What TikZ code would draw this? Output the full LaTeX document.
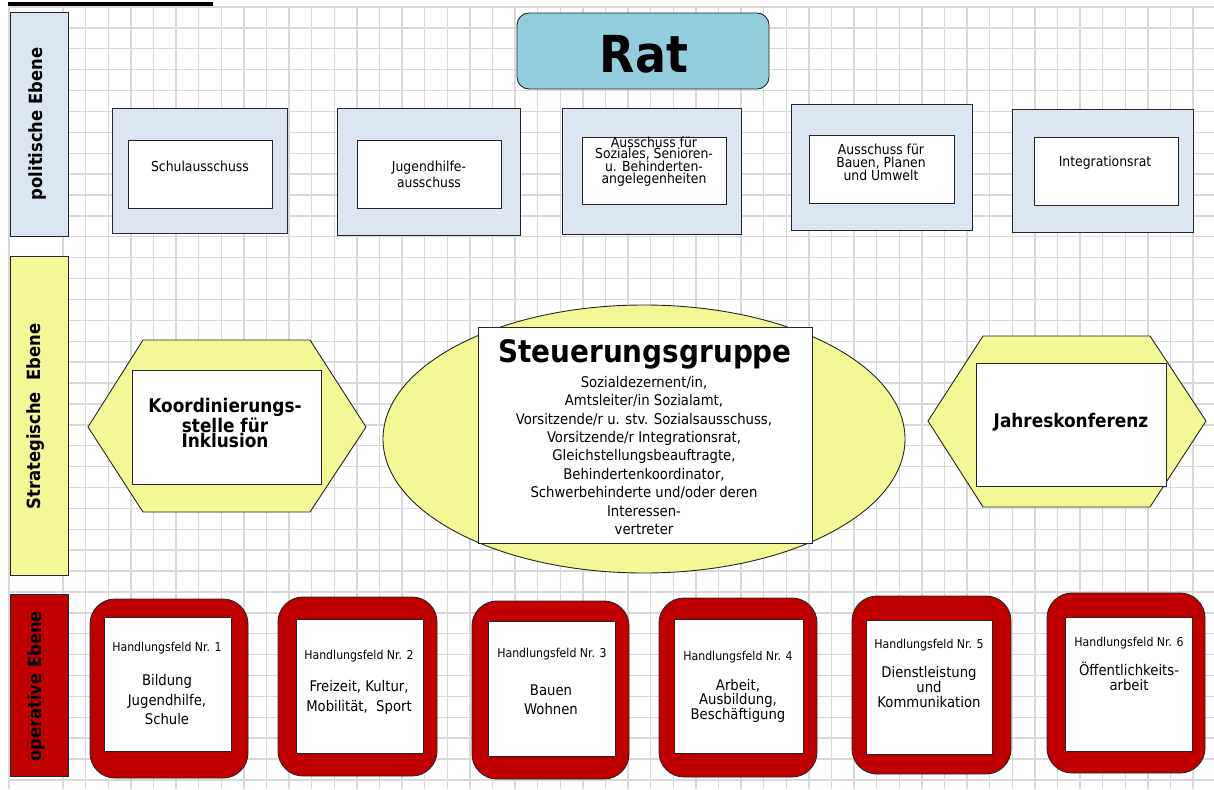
\documentclass[tikz,border=0pt]{standalone}
\usepackage{fontspec}
\setmainfont{DejaVu Sans Condensed}
\usetikzlibrary{shapes.geometric}
\definecolor{gridgray}{RGB}{217,217,217}
\definecolor{commblue}{RGB}{220,230,242}
\definecolor{hexyellow}{RGB}{243,247,150}
\definecolor{ratblue}{RGB}{146,205,220}
\definecolor{opred}{RGB}{192,0,0}
\begin{document}
\begin{tikzpicture}[x=1pt,y=-1pt,
  gridline/.style={draw=gridgray,line width=1.4pt},
  frame/.style={draw=black!85,line width=0.9pt},
  lanebox/.style={frame,rectangle,inner sep=0pt,minimum width=58},
  lanetext/.style={rotate=90,inner sep=0pt,font=\fontsize{18.2}{20}\selectfont\bfseries},
  outerbox/.style={frame,fill=commblue,inner sep=0pt},
  innerbox/.style={frame,fill=white,inner sep=0pt},
  commtext/.style={inner sep=0pt,align=center,font=\fontsize{13.8}{#1}\selectfont},
  commtext/.default=14,
  hexshape/.style={frame,fill=hexyellow},
  boldtext/.style={inner sep=0pt,align=center,font=\fontsize{18.8}{#1}\selectfont\bfseries},
  boldtext/.default=20,
  redbox/.style={frame,fill=opred,rounded corners=25,inner sep=0pt},
  hftext/.style={inner sep=0pt,font=\fontsize{12.2}{13}\selectfont},
  bodytext/.style={inner sep=0pt,align=center,font=\fontsize{14.7}{#1}\selectfont},
  bodytext/.default=19
]
\useasboundingbox (0,0) rectangle (1214,789);
\fill[white] (0,0) rectangle (1214,789);
% grid
\foreach \i in {0,...,50} \draw[gridline] ({63+22.6*\i},7) -- ({63+22.6*\i},789);
\foreach \j in {0,...,37} \draw[gridline] (9,{7+20.89*\j}) -- (1214,{7+20.89*\j});
\draw[gridline] (9,7) -- (9,789);
% title underline
\draw[line width=3.2pt] (8,4) -- (213,4);

% lanes
\node[lanebox,fill=commblue,minimum height=224] (lanepol) at (39,124) {};
\node[lanetext] (lanepoltext) at (37,124) {politische Ebene};
\node[lanebox,fill=hexyellow,minimum height=319] (lanestr) at (39,415.5) {};
\node[lanetext] (lanestrtext) at (36,416.5) {Strategische\ \ Ebene};
\node[lanebox,fill=opred,minimum height=182] (laneop) at (39,685) {};
\node[lanetext] (laneoptext) at (36,686.5) {operative Ebene};

% Rat
\node[frame,fill=ratblue,rounded corners=12,minimum width=252,minimum height=76,inner sep=0pt] (rat) at (643,51) {};
\node[inner sep=0pt,font=\fontsize{51}{55}\selectfont\bfseries] (rattext) at (644,54) {Rat};

% committees
\node[outerbox,minimum width=175,minimum height=125] (c1o) at (199.5,170.5) {};
\node[innerbox,minimum width=144,minimum height=68] (c1i) at (200,174) {};
\node[commtext] (c1t) at (200,166) {Schulausschuss};

\node[outerbox,minimum width=183,minimum height=127] (c2o) at (428.5,171.5) {};
\node[innerbox,minimum width=144,minimum height=68] (c2i) at (429,174) {};
\node[commtext=16] (c2t) at (429,174) {Jugendhilfe-\\ausschuss};

\node[outerbox,minimum width=179,minimum height=126] (c3o) at (651.5,171) {};
\node[innerbox,minimum width=144,minimum height=67] (c3i) at (654,170.5) {};
\node[commtext=10.3] (c3t) at (654,161.5) {Ausschuss für\\Soziales, Senioren-\\u. Behinderten-\\angelegenheiten};

\node[outerbox,minimum width=181,minimum height=126] (c4o) at (881.5,167) {};
\node[innerbox,minimum width=145,minimum height=68] (c4i) at (881.5,169) {};
\node[commtext=13] (c4t) at (881,162) {Ausschuss für\\Bauen, Planen\\und Umwelt};

\node[outerbox,minimum width=181,minimum height=123] (c5o) at (1102.5,170.5) {};
\node[innerbox,minimum width=144,minimum height=68] (c5i) at (1106,171) {};
\node[commtext] (c5t) at (1105,163) {Integrationsrat};

% strategic level
\draw[hexshape] (143,340) -- (310,340) -- (366,427) -- (310,512) -- (143,512) -- (88,427) -- cycle;
\node[innerbox,minimum width=189,minimum height=114] (koordbox) at (226.5,427) {};
\node[boldtext=13] (koordtext) at (225,423) {Koordinierungs-\\stelle für\\Inklusion};

\node[ellipse,frame,fill=hexyellow,minimum width=522,minimum height=268,inner sep=0pt] (steuer) at (644,439) {};
\node[innerbox,minimum width=334,minimum height=216] (steuerbox) at (645,435) {};
\node[inner sep=0pt,font=\fontsize{31}{34}\selectfont\bfseries] (steuertitle) at (645,354) {Steuerungsgruppe};
\node[bodytext=18.35] (steuertext) at (644,455.5) {Sozialdezernent/in,\\Amtsleiter/in Sozialamt,\\Vorsitzende/r u. stv. Sozialsausschuss,\\Vorsitzende/r Integrationsrat,\\Gleichstellungsbeauftragte,\\Behindertenkoordinator,\\Schwerbehinderte und/oder deren\\Interessen-\\vertreter};

\draw[hexshape] (983,336) -- (1150,336) -- (1206,421) -- (1150,507) -- (983,507) -- (928,421) -- cycle;
\node[innerbox,minimum width=190,minimum height=123] (jahrbox) at (1071,424.5) {};
\node[boldtext] (jahrtext) at (1071,422) {Jahreskonferenz};

% operative level
\node[redbox,minimum width=158,minimum height=179] (h1o) at (169,688.5) {};
\node[innerbox,minimum width=127,minimum height=134] (h1i) at (167.5,684) {};
\node[hftext] (h1h) at (167,648) {Handlungsfeld Nr. 1};
\node[bodytext=19.5] (h1t) at (167,700) {Bildung\\Jugendhilfe,\\Schule};

\node[redbox,minimum width=159,minimum height=179] (h2o) at (357.5,686.5) {};
\node[innerbox,minimum width=127,minimum height=134] (h2i) at (359.5,686) {};
\node[hftext] (h2h) at (359,656) {Handlungsfeld Nr. 2};
\node[bodytext=20] (h2t) at (359,697) {Freizeit, Kultur,\\Mobilität,\ \ Sport};

\node[redbox,minimum width=157,minimum height=178] (h3o) at (550.5,690) {};
\node[innerbox,minimum width=127,minimum height=135] (h3i) at (551.5,688.5) {};
\node[hftext] (h3h) at (552,654) {Handlungsfeld Nr. 3};
\node[bodytext=19] (h3t) at (551,699.5) {Bauen\\Wohnen};

\node[redbox,minimum width=158,minimum height=179] (h4o) at (738,687.5) {};
\node[innerbox,minimum width=129,minimum height=134] (h4i) at (738.5,686) {};
\node[hftext] (h4h) at (738,657) {Handlungsfeld Nr. 4};
\node[bodytext=12] (h4t) at (738,701) {Arbeit,\\Ausbildung,\\Beschäftigung};

\node[redbox,minimum width=159,minimum height=178] (h5o) at (931.5,685) {};
\node[innerbox,minimum width=126,minimum height=134] (h5i) at (929,687) {};
\node[hftext] (h5h) at (929,645) {Handlungsfeld Nr. 5};
\node[bodytext=15] (h5t) at (929,687) {Dienstleistung\\und\\Kommunikation};

\node[redbox,minimum width=158,minimum height=180] (h6o) at (1126,683) {};
\node[innerbox,minimum width=127,minimum height=134] (h6i) at (1128.5,684) {};
\node[hftext] (h6h) at (1129,643) {Handlungsfeld Nr. 6};
\node[bodytext=15] (h6t) at (1129,676.5) {Öffentlichkeits-\\arbeit};
\end{tikzpicture}
\end{document}
